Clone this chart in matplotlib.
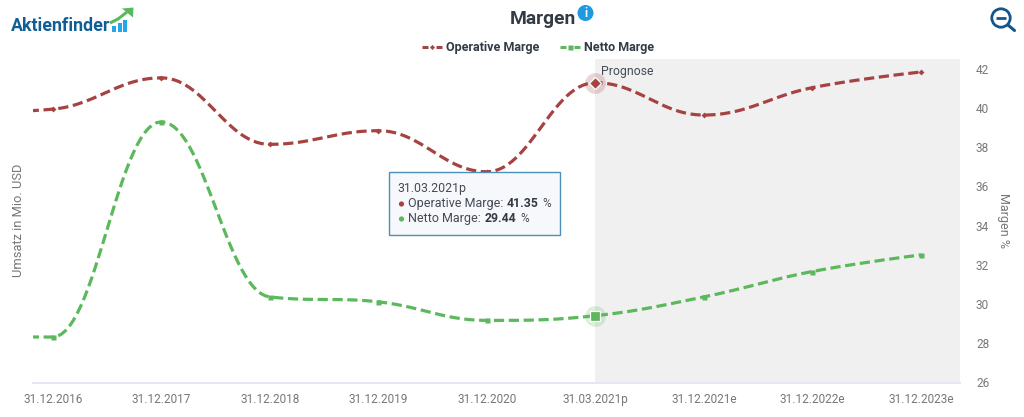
import numpy as np
import matplotlib
matplotlib.use("Agg")
import matplotlib.pyplot as plt
from matplotlib.patches import Rectangle, Circle, Polygon
from matplotlib.lines import Line2D
from matplotlib.transforms import ScaledTranslation

categories = ["31.12.2016", "31.12.2017", "31.12.2018", "31.12.2019", "31.12.2020",
              "31.03.2021p", "31.12.2021e", "31.12.2022e", "31.12.2023e"]
operative = [40.0, 41.6, 38.2, 38.9, 36.8, 41.35, 39.7, 41.1, 41.9]
netto = [28.35, 39.35, 30.4, 30.15, 29.2, 29.44, 30.4, 31.7, 32.55]
# point just outside the left edge of the plot (the curve enters clipped)
operative_before = 39.8
netto_before = 28.4
yticks = [26, 28, 30, 32, 34, 36, 38, 40, 42]
forecast_start = 5
hover = 5

RED = "#a64341"
GREEN = "#5cb85c"
GREY = "#777777"
DARK = "#333b45"

plt.rcParams["font.family"] = ["Roboto", "DejaVu Sans"]
W, H = 1024, 417
fig = plt.figure(figsize=(W / 100, H / 100), dpi=100, facecolor="white")

def spline(xs, ys, n=30):
    xs = list(map(float, xs)); ys = list(map(float, ys))
    sm, den = 1.5, 2.5
    L, R = [None] * len(xs), [None] * len(xs)
    for i in range(1, len(xs) - 1):
        x, y = xs[i], ys[i]
        lx = (sm * x + xs[i - 1]) / den; ly = (sm * y + ys[i - 1]) / den
        rx = (sm * x + xs[i + 1]) / den; ry = (sm * y + ys[i + 1]) / den
        c = (ry - ly) * (rx - x) / (rx - lx) + y - ry
        ly += c; ry += c
        if ly > ys[i - 1] and ly > y:
            ly = max(ys[i - 1], y); ry = 2 * y - ly
        elif ly < ys[i - 1] and ly < y:
            ly = min(ys[i - 1], y); ry = 2 * y - ly
        if ry > ys[i + 1] and ry > y:
            ry = max(ys[i + 1], y); ly = 2 * y - ry
        elif ry < ys[i + 1] and ry < y:
            ry = min(ys[i + 1], y); ly = 2 * y - ry
        L[i] = (lx, ly); R[i] = (rx, ry)
    ox, oy = [], []
    t = np.linspace(0, 1, n)
    for i in range(len(xs) - 1):
        p0 = (xs[i], ys[i]); p3 = (xs[i + 1], ys[i + 1])
        p1 = R[i] if R[i] else p0
        p2 = L[i + 1] if L[i + 1] else p3
        for k, lst in enumerate((ox, oy)):
            lst.extend((1 - t) ** 3 * p0[k] + 3 * (1 - t) ** 2 * t * p1[k]
                       + 3 * (1 - t) * t ** 2 * p2[k] + t ** 3 * p3[k])
    return np.array(ox), np.array(oy)

# main axes: px 33..960, y 59..383
ax = fig.add_axes([33 / W, 1 - 383 / H, (960 - 33) / W, (383 - 59) / H])
px_per_cat = 108.5
x0 = 52.8
ax.set_xlim((33 - x0) / px_per_cat, (960 - x0) / px_per_cat)
py = 19.56
ax.set_ylim(26, 26 + (383 - 59) / py)
ax.patch.set_alpha(0)
ax.axvspan(forecast_start, ax.get_xlim()[1], color="#f0f0f0", lw=0, zorder=0)

idx = np.arange(len(categories))
lw = 2.3
dash = (3.2, 1.45)
for vals, before, col, mk, ms, hms in [(operative, operative_before, RED, "D", 3.0, 6.0),
                                      (netto, netto_before, GREEN, "s", 3.6, 7.6)]:
    sx, sy = spline(np.r_[-1, idx], np.r_[before, vals])
    ax.plot(sx, sy, color=col, lw=lw, dashes=dash, dash_capstyle="butt", zorder=3)
    ax.plot(idx, vals, ls="none", marker=mk, ms=ms, mfc=col, mec="none", zorder=4)
    ax.plot([hover], [vals[hover]], ls="none", marker="o", ms=15, mfc=col, mec="none", alpha=0.22, zorder=4)
    ax.plot([hover], [vals[hover]], ls="none", marker=mk, ms=hms, mfc=col, mec="white", mew=0.9, zorder=5)

ax.yaxis.tick_right()
ax.set_yticks(yticks)
ax.set_xticks(idx)
ax.set_xticklabels(categories)
ax.tick_params(axis="both", length=0, labelsize=8.5, labelcolor=GREY)
ax.tick_params(axis="x", pad=7.5)
ax.tick_params(axis="y", pad=11.5)
for lab in ax.get_yticklabels():
    lab.set_transform(lab.get_transform() + ScaledTranslation(0, 1 / 100, fig.dpi_scale_trans))
for s in ("top", "left", "right"):
    ax.spines[s].set_visible(False)
ax.spines["bottom"].set_color("#e3e7f4")
ax.spines["bottom"].set_linewidth(1.4)

# overlay in pixel coordinates
ov = fig.add_axes([0, 0, 1, 1], zorder=10)
ov.set_xlim(0, W); ov.set_ylim(H, 0); ov.axis("off"); ov.patch.set_alpha(0)

def T(x, y, s, size=8.7, color=GREY, weight="normal", ha="left", va="center", **kw):
    return ov.text(x, y, s, fontsize=size, color=color, fontweight=weight, ha=ha, va=va, **kw)

T(18.5, 220.5, "Umsatz in Mio. USD", size=9.3, rotation=90, ha="center")
T(1003.5, 220.5, "Margen %", size=9.0, rotation=270, ha="center")
T(600.5, 71.5, "Prognose", size=8.8, color="#444b55")

# title and info icon
T(542.5, 19, "Margen", size=13.9, color=DARK, weight="bold", ha="center")
ov.add_patch(Circle((585.5, 13), 8, fc="#1d9ae0", ec="none"))
T(585.5, 13, "i", size=8.5, color="white", weight="bold", ha="center")

# legend
for x1, label, tx, col, mk, ms in [(422, "Operative Marge", 446, RED, "D", 2.6),
                                   (560, "Netto Marge", 584, GREEN, "s", 3.6)]:
    ov.add_line(Line2D([x1, x1 + 20], [47, 47], color=col, lw=2.2, dashes=(1.96, 2.62), dash_capstyle="butt"))
    ov.plot([x1 + 10], [47], marker=mk, ms=ms, mfc=col, mec="none", ls="none")
    T(tx, 47, label, size=9.0, color=DARK, weight="bold")

# tooltip
ov.add_patch(Rectangle((389, 172), 171, 63, fc="#f7f8fb", ec="#4c8fb8", lw=1.0))
T(397, 188, "31.03.2021p", size=8.9, color="#444b55")
ov.add_patch(Circle((401.5, 204), 2.6, fc=RED, ec="none"))
T(408, 203.5, "Operative Marge:", size=9.0, color="#444b55")
T(506.5, 203.5, "41.35", size=8.8, color=DARK, weight="bold")
T(542.5, 203.5, "%", size=8.6, color="#444b55")
ov.add_patch(Circle((401.5, 219), 2.6, fc=GREEN, ec="none"))
T(408, 218.5, "Netto Marge:", size=9.0, color="#444b55")
T(484.5, 218.5, "29.44", size=8.8, color=DARK, weight="bold")
T(520, 218.5, "%", size=8.6, color="#444b55")

# logo
T(10.5, 25.5, "Aktienfinder", size=12.8, color="#0f5f96", weight="bold")
for bx, bt in [(112, 26), (117.5, 23), (123, 20)]:
    ov.add_patch(Rectangle((bx, bt), 4.2, 32 - bt, fc="#25a5ea", ec="none"))
ov.plot([110, 118, 127], [23, 19, 12], color="#5cb860", lw=2.2, solid_capstyle="butt")
ov.add_patch(Polygon([[122, 8.5], [133.5, 7.5], [133, 17.5]], fc="#5cb860", ec="none"))

# zoom icon
ov.add_patch(Circle((1001, 18), 9.2, fc="none", ec="#12558f", lw=2.0))
ov.plot([996, 1006], [18, 18], color="#12558f", lw=2.0, solid_capstyle="butt")
ov.plot([1008, 1014.5], [25, 30.5], color="#12558f", lw=2.2, solid_capstyle="round")

fig.savefig("out.png", dpi=100, facecolor="white")
